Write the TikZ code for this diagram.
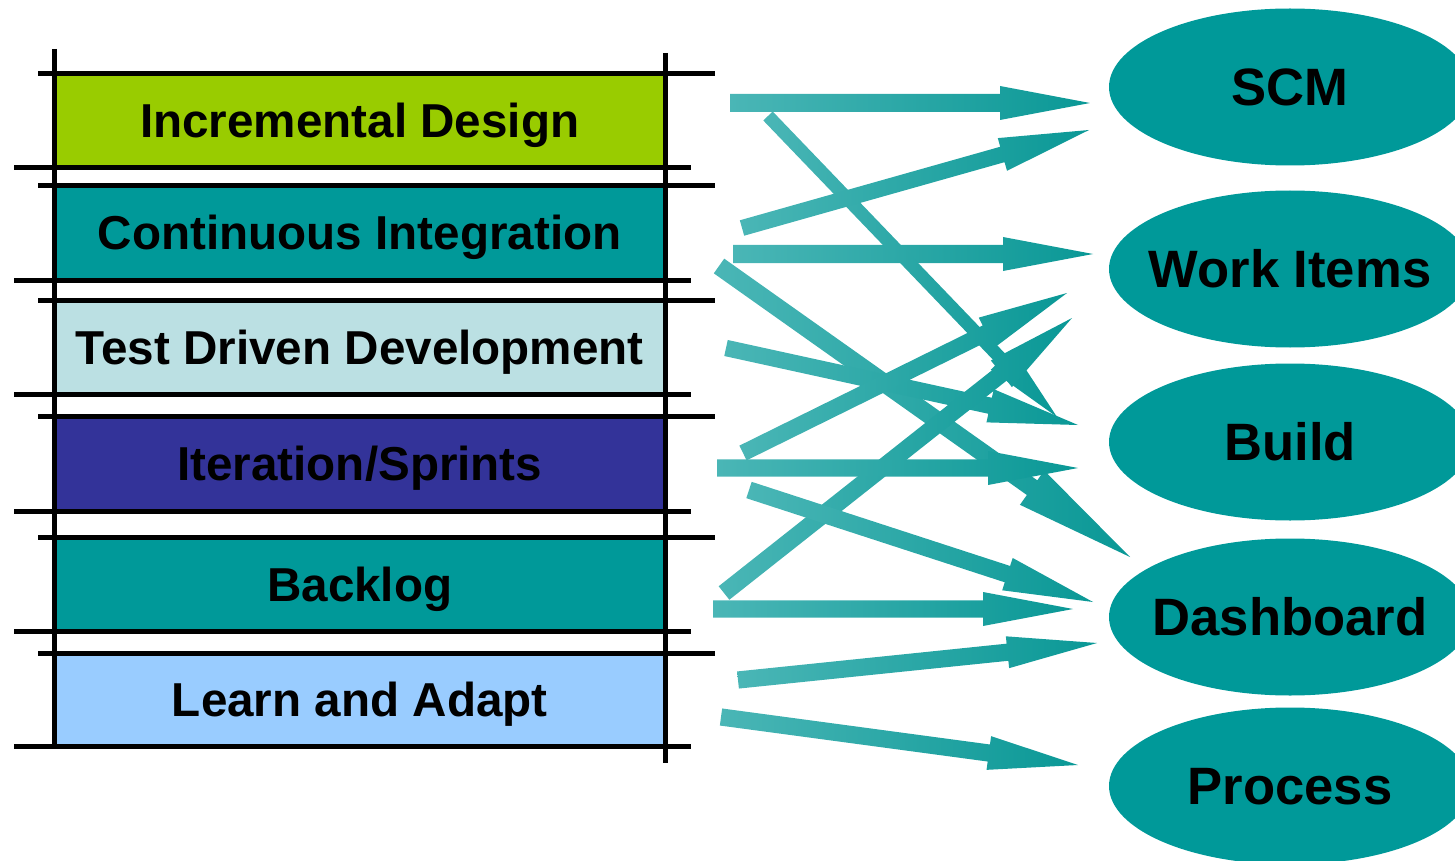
\documentclass[tikz,border=0pt]{standalone}
\usepackage{fontspec}
\setmainfont{Liberation Sans}
\usetikzlibrary{shapes.geometric,calc}
\definecolor{cgreen}{HTML}{99CC00}
\definecolor{cteal}{HTML}{009999}
\definecolor{clight}{HTML}{BBE0E3}
\definecolor{cblue}{HTML}{333399}
\definecolor{csky}{HTML}{99CCFF}
\definecolor{arrlight}{HTML}{4AB6B6}
\definecolor{arrdark}{HTML}{0A9896}
% #1 start, #2 tip, #3 shaft half-width, #4 head half-width, #5 head length
\newcommand\blockarr[5]{%
  \coordinate (hb) at ($(#2)!#5!(#1)$);
  \shade[arrowfill] ($(#1)!#3!90:(#2)$) -- ($(hb)!#3!-90:(#1)$) -- ($(hb)!#4!-90:(#1)$) -- (#2)
    -- ($(hb)!#4!90:(#1)$) -- ($(hb)!#3!90:(#1)$) -- ($(#1)!#3!-90:(#2)$) -- cycle;
}
\begin{document}
\begin{tikzpicture}[x=0.5pt,y=-0.5pt,
  box/.style={rectangle, inner sep=0pt, minimum width=305.25pt, minimum height=#1,
    font=\fontsize{23.8}{28}\selectfont\bfseries, text height=17pt, text depth=0pt},
  oval/.style={ellipse, fill=cteal, inner xsep=-25pt, inner ysep=0pt, minimum width=181pt, minimum height=78.5pt,
    font=\fontsize{26.3}{30}\selectfont\bfseries, text height=18.8pt, text depth=0pt},
  rule/.style={line width=2.5pt, black},
  arrowfill/.style={left color=arrlight, right color=arrdark}]
\useasboundingbox (0,0) rectangle (1455,861);

% boxes
\node[box=47.25pt, fill=cgreen] (incr) at (359.75,120.75) {Incremental Design};
\node[box=47.25pt, fill=cteal]  (ci)   at (359.75,232.75) {Continuous Integration};
\node[box=47pt,    fill=clight] (tdd)  at (359.75,347)    {Test Driven Development};
\node[box=47.5pt,  fill=cblue]  (iter) at (359.75,463.5)  {Iteration/Sprints};
\node[box=47pt,    fill=cteal]  (back) at (359.75,584)    {Backlog};
\node[box=46.5pt,  fill=csky]   (learn) at (359.75,699.5) {Learn and Adapt};

% grid lines
\foreach \y in {73.5,185.5,300,416,537,653} \draw[rule] (38,\y) -- (715,\y);
\foreach \y in {168,280,394,511,631,746} \draw[rule] (14,\y) -- (691,\y);
\draw[rule] (54.5,49) -- (54.5,748);
\draw[rule] (665,53) -- (665,763);

% ellipses
\node[oval] (scm)   at (1290,87)  {SCM};
\node[oval] (work)  at (1290,269) {Work Items};
\node[oval] (build) at (1290,442) {Build};
\node[oval] (dash)  at (1290,617) {Dashboard};
\node[oval] (proc)  at (1290,786) {Process};

% arrow end points
\coordinate (s1) at (730,103);  \coordinate (t1) at (1090,103);
\coordinate (s2) at (742,228);  \coordinate (t2) at (1089,130);
\coordinate (s3) at (733,254);  \coordinate (t3) at (1093,254);
\coordinate (s4) at (768,116);  \coordinate (t4) at (1057,417);
\coordinate (sa) at (719,266);  \coordinate (ta) at (1130,557);
\coordinate (sc) at (726,348);  \coordinate (tc) at (1078,425);
\coordinate (sd) at (743,453);  \coordinate (td) at (1067,293);
\coordinate (se) at (724,593);  \coordinate (te) at (1072,318);
\coordinate (sf) at (717,468);  \coordinate (tf) at (1078,468);
\coordinate (sg) at (749,490);  \coordinate (tg) at (1093,602);
\coordinate (sh) at (713,609);  \coordinate (th) at (1073,609);
\coordinate (si) at (738,680);  \coordinate (ti) at (1097,643);
\coordinate (sj) at (721,717);  \coordinate (tj) at (1078,765);

% arrows
\blockarr{s1}{t1}{4.5pt}{8.5pt}{45pt}
\blockarr{s3}{t3}{4.5pt}{8.5pt}{45pt}
\blockarr{s4}{t4}{3.25pt}{7.5pt}{40pt}
\blockarr{s2}{t2}{4pt}{8.5pt}{45pt}
\blockarr{sa}{ta}{4.5pt}{10.5pt}{60pt}
\blockarr{sc}{tc}{4.1pt}{8.5pt}{45pt}
\blockarr{sd}{td}{4.1pt}{8.5pt}{45pt}
\blockarr{se}{te}{4.3pt}{8.5pt}{45pt}
\blockarr{sf}{tf}{4.3pt}{8.5pt}{45pt}
\blockarr{sg}{tg}{4.3pt}{8.5pt}{45pt}
\blockarr{sh}{th}{4.3pt}{8.5pt}{45pt}
\blockarr{si}{ti}{4.3pt}{8pt}{45pt}
\blockarr{sj}{tj}{4.3pt}{8.5pt}{45pt}
\end{tikzpicture}
\end{document}
